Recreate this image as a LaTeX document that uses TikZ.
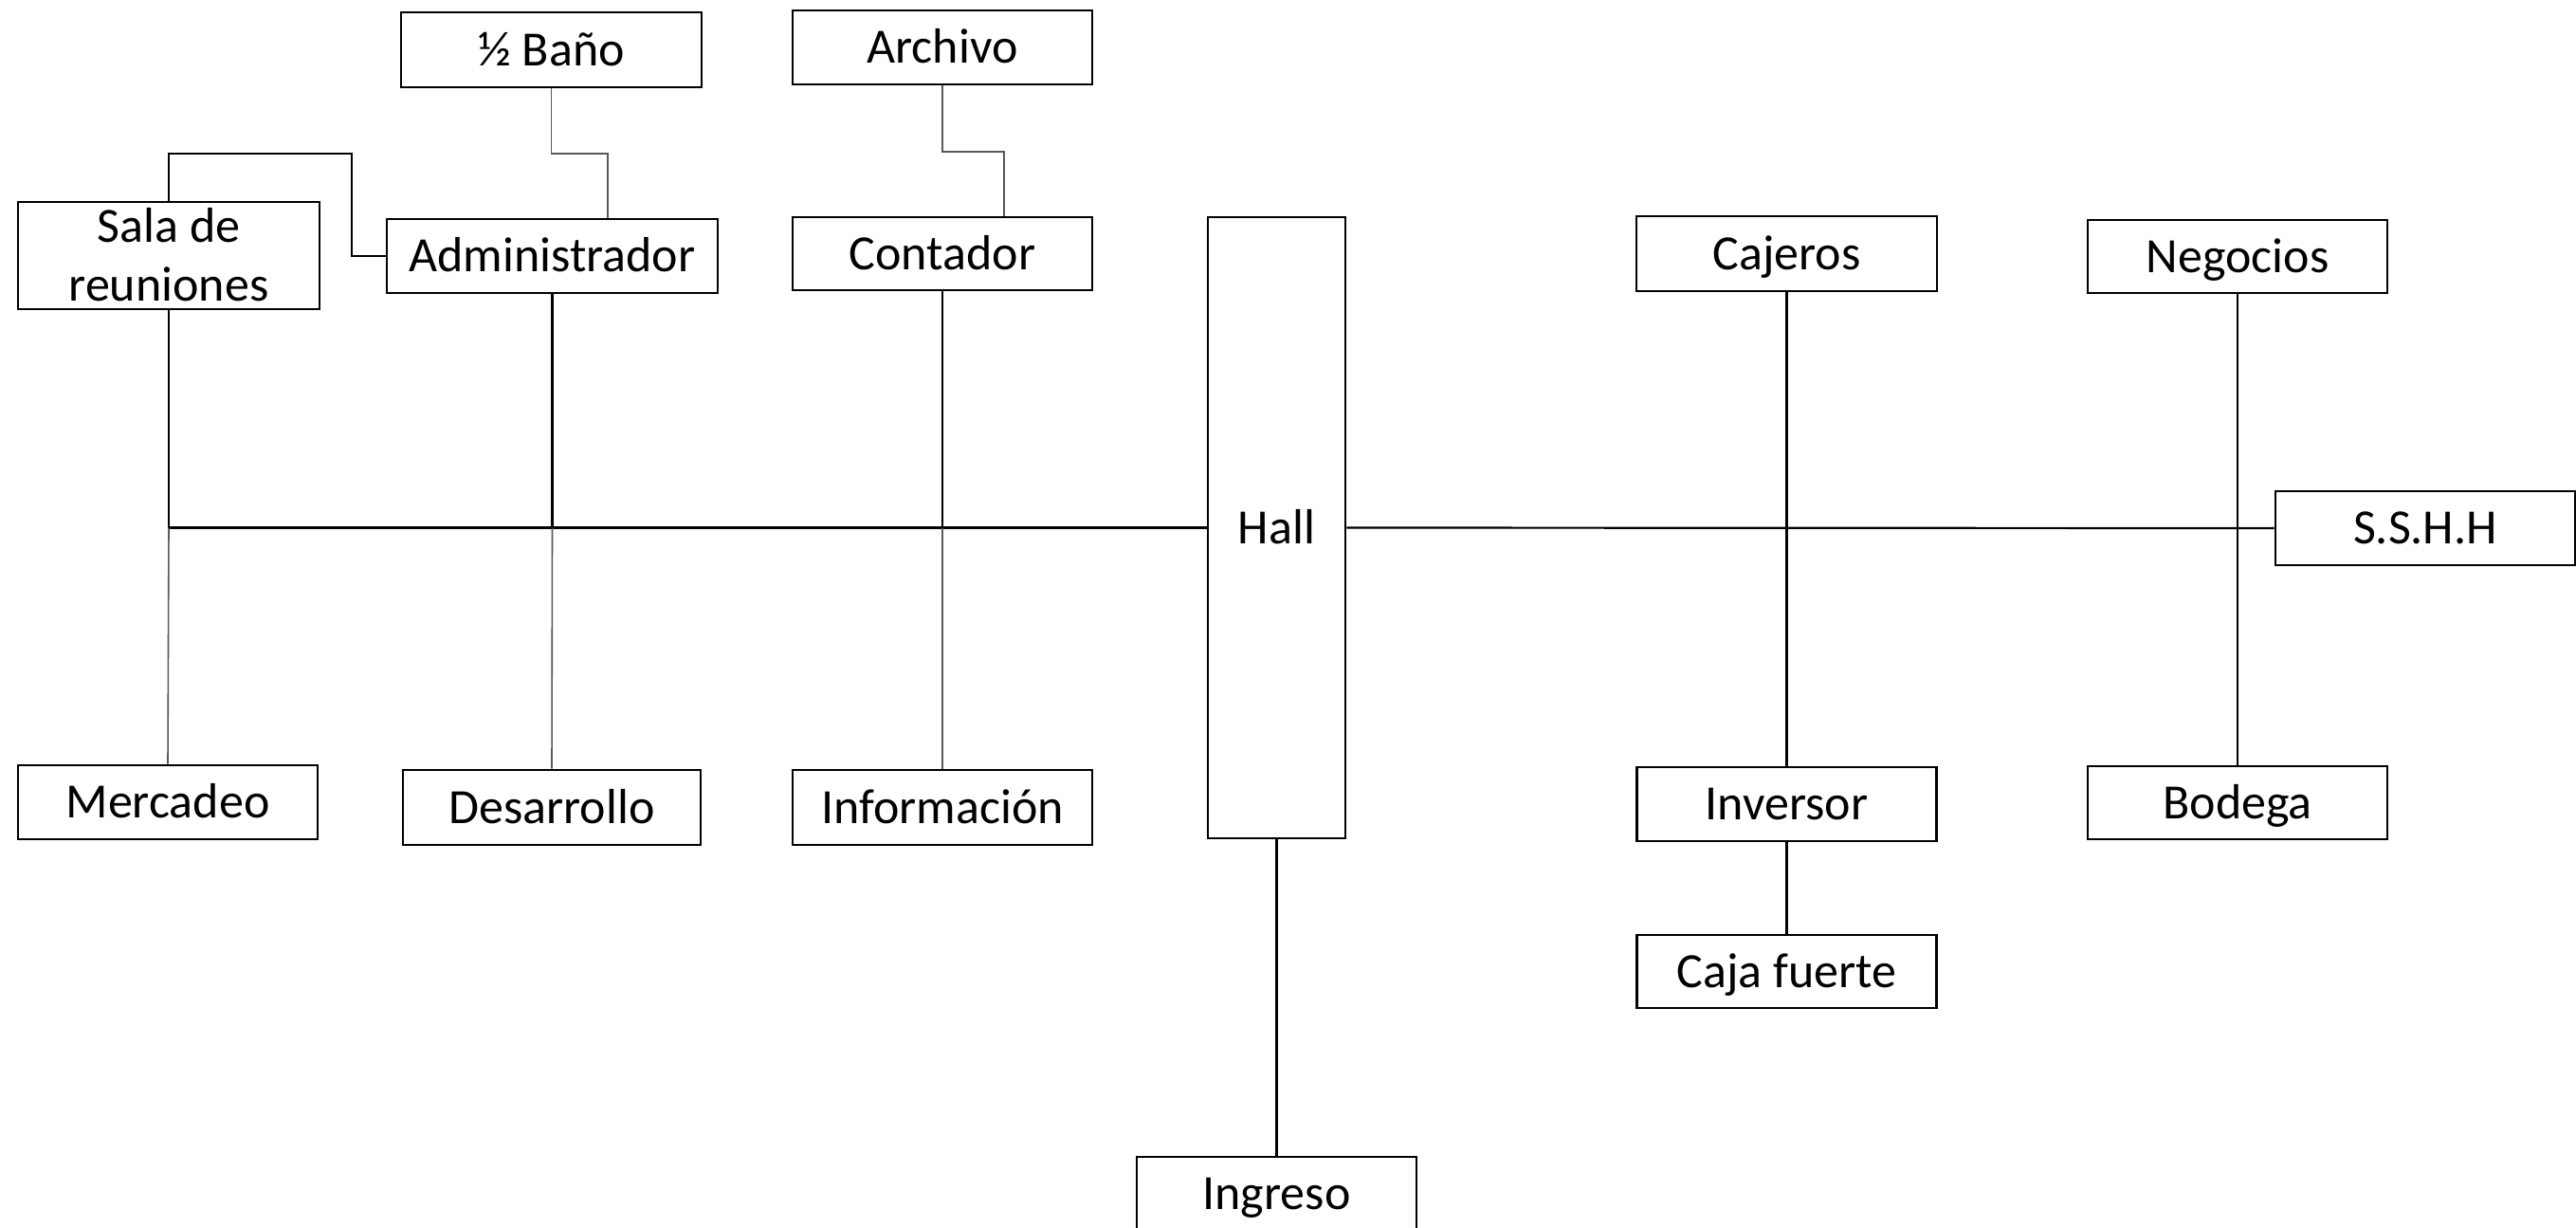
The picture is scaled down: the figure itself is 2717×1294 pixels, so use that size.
\documentclass[tikz,border=0pt]{standalone}
\usepackage{fontspec}
\setmainfont{Carlito}
\begin{document}
\begin{tikzpicture}[x=1pt,y=-1pt,
  box/.style={draw, rectangle, line width=2.6pt, inner sep=0pt, align=center,
              font=\fontsize{52}{62}\selectfont, text height=33.5pt, text depth=0pt},
  link/.style={line width=2.2pt, black},
  faint/.style={line width=1.6pt, black!65}]
\useasboundingbox (0,0) rectangle (2717,1294);
\clip (0,0) rectangle (2717,1294);
% boxes
\node[box, minimum width=317pt, minimum height=79pt]  (bano)     at (581.5,52.5) {½ Baño};
\node[box, minimum width=316pt, minimum height=78pt]  (archivo)  at (994,50) {Archivo};
\node[box, text height=95.5pt, minimum width=318pt, minimum height=113pt] (sala) at (178,269.5) {Sala de\\reuniones};
\node[box, minimum width=349pt, minimum height=78pt]  (admin)    at (582.5,270) {Administrador};
\node[box, minimum width=316pt, minimum height=77pt]  (contador) at (994,267.5) {Contador};
\node[box, minimum width=145pt, minimum height=655pt] (hall)     at (1346.5,556.5) {Hall};
\node[box, minimum width=317pt, minimum height=79pt]  (cajeros)  at (1884.5,267.5) {Cajeros};
\node[box, minimum width=316pt, minimum height=77pt]  (negocios) at (2360,270.5) {Negocios};
\node[box, minimum width=316pt, minimum height=78pt]  (sshh)     at (2558,557) {S.S.H.H};
\node[box, minimum width=316pt, minimum height=78pt]  (mercadeo) at (177,846) {Mercadeo};
\node[box, minimum width=314pt, minimum height=79pt]  (desarrollo) at (582,851.5) {Desarrollo};
\node[box, minimum width=316pt, minimum height=79pt]  (informacion) at (994,851.5) {Información};
\node[box, minimum width=316pt, minimum height=78pt]  (inversor) at (1884.5,848) {Inversor};
\node[box, minimum width=316pt, minimum height=77pt]  (bodega)   at (2360,846.5) {Bodega};
\node[box, minimum width=316pt, minimum height=77pt]  (caja)     at (1884.5,1024.5) {Caja fuerte};
\node[box, minimum width=295pt, minimum height=78pt]  (ingreso)  at (1346.5,1259) {Ingreso};
% helper coordinates
\coordinate (bA) at (641,162);
\coordinate (aC) at (1059,160);
\coordinate (sA) at (371,162);
\coordinate (jL) at (178,556.5);
% connectors top
\draw[faint] (bano.south) |- (bA) -- (bA |- admin.north);
\draw[faint] (archivo.south) |- (aC) -- (aC |- contador.north);
\draw[link] (sala.north) |- (sA) |- (admin.west);
% left main line
\draw[link] (jL) -- (hall.west);
\draw[link] (sala.south) -- (jL);
\draw[faint] (jL) -- (mercadeo.north);
\draw[link] (admin.south) -- (admin.south |- jL);
\draw[faint] (admin.south |- jL) -- (desarrollo.north);
\draw[link] (contador.south) -- (contador.south |- jL);
\draw[faint] (contador.south |- jL) -- (informacion.north);
% right main line
\draw[link] (hall.east) -- (sshh.west);
\draw[link] (cajeros.south) -- (inversor.north);
\draw[link] (inversor.south) -- (caja.north);
\draw[link] (negocios.south) -- (bodega.north);
\draw[link] (hall.south) -- (ingreso.north);
\end{tikzpicture}
\end{document}
